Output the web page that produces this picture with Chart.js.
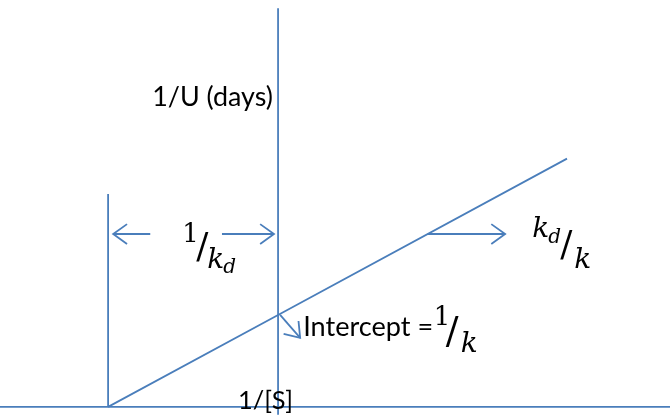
<!DOCTYPE html>
<html>
<head>
<meta charset="utf-8">
<script src="https://cdn.jsdelivr.net/npm/chart.js@4.4.1/dist/chart.umd.min.js"></script>
<style>
    html, body { margin: 0; padding: 0; background: #fff; }
    #wrap { width: 670px; height: 417px; }
</style>
</head>
<body>
<div id="wrap"><canvas id="chartLB" width="670" height="417"></canvas></div>
<script>
// reciprocal plot: 1/U against 1/[S]
var invS = [-5, 0, 8.5];
var invU = [0, 2, 5.4];

// axis extents (data units)
var xRange = [-8.18, 11.53];
var yRange = [-0.22, 8.85];
var yAxisTop = 8.67;
var kdMarkerTop = 4.63;

// arrows as [tailX, tailY, tipX, tipY]
var arrowKdLeft = [-3.76, 3.76, -4.85, 3.76];
var arrowKdRight = [-1.65, 3.76, -0.12, 3.76];
var arrowSlope = [4.4, 3.76, 6.68, 3.76];
var arrowIntercept = [0.06, 2.0, 0.65, 1.5];

var BLUE = '#4a7ebb';
var SANS = 'Lato, "Liberation Sans", sans-serif';
var SERIF = '"DejaVu Serif", "Liberation Serif", serif';

function seg(x1, y1, x2, y2) {
    return [{ x: x1, y: y1 }, { x: x2, y: y2 }];
}

function lineSet(data, arrow) {
    return {
        data: data,
        showLine: true,
        borderColor: BLUE,
        borderWidth: 1.8,
        pointRadius: 0,
        fill: false,
        tension: 0,
        arrow: !!arrow
    };
}

var lbLine = [];
for (var i = 0; i < invS.length; i++) {
    lbLine.push({ x: invS[i], y: invU[i] });
}

function arrowSet(a) {
    return lineSet(seg(a[0], a[1], a[2], a[3]), true);
}

// open chevron at the end of arrow datasets
var arrowHeads = {
    id: 'arrowHeads',
    afterDatasetsDraw: function(chart) {
        var ctx = chart.ctx;
        chart.data.datasets.forEach(function(ds, idx) {
            if (!ds.arrow) return;
            var pts = chart.getDatasetMeta(idx).data;
            var p0 = pts[0], p1 = pts[pts.length - 1];
            var ang = Math.atan2(p1.y - p0.y, p1.x - p0.x);
            var len = 17, spread = 0.62;
            ctx.save();
            ctx.strokeStyle = BLUE;
            ctx.lineWidth = 1.8;
            ctx.beginPath();
            ctx.moveTo(p1.x - len * Math.cos(ang - spread), p1.y - len * Math.sin(ang - spread));
            ctx.lineTo(p1.x, p1.y);
            ctx.lineTo(p1.x - len * Math.cos(ang + spread), p1.y - len * Math.sin(ang + spread));
            ctx.stroke();
            ctx.restore();
        });
    }
};

// text labels, anchored in data units, pieces offset in px
var labels = [
    { x: -0.15, y: 6.72, pieces: [{ t: '1/U (days)', font: 'sans', fit: 121, align: 'right', dx: 0, dy: 8 }] },
    { x: -1.18, y: -0.04, pieces: [{ t: '1/[S]', font: 'sans', fit: 55, align: 'left', dx: 0, dy: 0 }] },
    { x: 0.74, y: 1.54, pieces: [{ t: 'Intercept =', font: 'sans', fit: 130, align: 'left', dx: 0, dy: 0 }] },
    { x: -2.82, y: 3.59, pieces: [
        { t: '1', font: 'serif', size: 26, dx: 0, dy: 0 },
        { t: '/', font: 'serif', size: 36, dx: 14, dy: 16 },
        { t: 'k', font: 'iserif', size: 28, dx: 25, dy: 26 },
        { t: 'd', font: 'iserif', size: 20, dx: 41, dy: 31 }
    ] },
    { x: 7.48, y: 3.7, pieces: [
        { t: 'k', font: 'iserif', size: 28, dx: 0, dy: 0 },
        { t: 'd', font: 'iserif', size: 20, dx: 16, dy: 6 },
        { t: '/', font: 'serif', size: 36, dx: 28, dy: 19 },
        { t: 'k', font: 'iserif', size: 28, dx: 42, dy: 31 }
    ] },
    { x: 4.58, y: 1.78, pieces: [
        { t: '1', font: 'serif', size: 26, dx: 0, dy: 0 },
        { t: '/', font: 'serif', size: 38, dx: 12, dy: 18 },
        { t: 'k', font: 'iserif', size: 28, dx: 27, dy: 27 }
    ] }
];

function fontFor(p, ctx) {
    if (p.font === 'sans') {
        ctx.font = '30px ' + SANS;
        var size = 30 * p.fit / ctx.measureText(p.t).width;
        return size.toFixed(1) + 'px ' + SANS;
    }
    if (p.font === 'iserif') return 'italic ' + p.size + 'px ' + SERIF;
    return p.size + 'px ' + SERIF;
}

var textLabels = {
    id: 'textLabels',
    afterDraw: function(chart) {
        var ctx = chart.ctx;
        var sx = chart.scales.x, sy = chart.scales.y;
        labels.forEach(function(l) {
            var ax = sx.getPixelForValue(l.x);
            var ay = sy.getPixelForValue(l.y);
            l.pieces.forEach(function(p) {
                ctx.save();
                ctx.font = fontFor(p, ctx);
                ctx.fillStyle = '#000';
                ctx.textAlign = p.align || 'left';
                ctx.textBaseline = 'alphabetic';
                ctx.fillText(p.t, ax + p.dx, ay + p.dy);
                ctx.restore();
            });
        });
    }
};

var ctx = document.getElementById('chartLB').getContext('2d');
var chart = new Chart(ctx, {
    type: 'scatter',
    data: {
        datasets: [
            lineSet(seg(xRange[0], 0, xRange[1], 0)),
            lineSet(seg(0, yRange[0] + 0.05, 0, yAxisTop)),
            lineSet(seg(invS[0], 0, invS[0], kdMarkerTop)),
            lineSet(lbLine),
            arrowSet(arrowKdLeft),
            arrowSet(arrowKdRight),
            arrowSet(arrowSlope),
            arrowSet(arrowIntercept)
        ]
    },
    options: {
        responsive: false,
        animation: false,
        layout: { padding: 0 },
        plugins: {
            legend: { display: false },
            tooltip: { enabled: false }
        },
        scales: {
            x: { type: 'linear', display: false, min: xRange[0], max: xRange[1] },
            y: { type: 'linear', display: false, min: yRange[0], max: yRange[1] }
        }
    },
    plugins: [arrowHeads, textLabels]
});
</script>
</body>
</html>
